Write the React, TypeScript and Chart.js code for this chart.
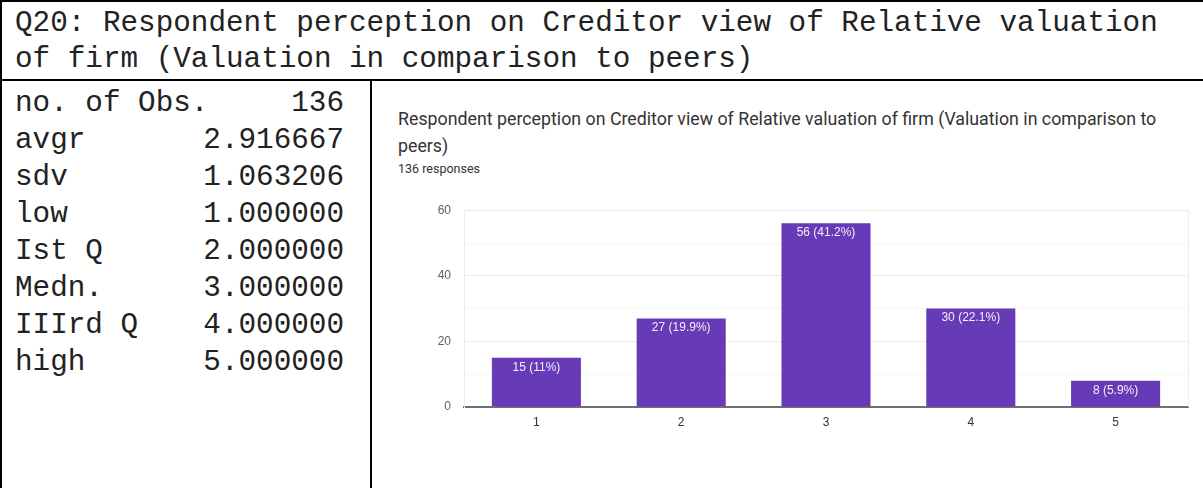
import React, { useEffect, useRef } from "react";
import { Chart, registerables } from "chart.js";

Chart.register(...registerables);

// ---- data ----
const categories = ["1", "2", "3", "4", "5"];
const counts = [15, 27, 56, 30, 8];
const percentLabels = ["11%", "19.9%", "41.2%", "22.1%", "5.9%"];
const yMajorTicks = [0, 20, 40, 60];
const statLabels = ["no. of Obs.", "avgr", "sdv", "low", "Ist Q", "Medn.", "IIIrd Q", "high"];
const statValues = ["136", "2.916667", "1.063206", "1.000000", "2.000000", "3.000000", "4.000000", "5.000000"];
const headerLines = [
  "Q20: Respondent perception on Creditor view of Relative valuation",
  "of firm (Valuation in comparison to peers)",
];
const chartTitleLines = [
  "Respondent perception on Creditor view of Relative valuation of firm (Valuation in comparison to",
  "peers)",
];
const responsesText = "136 responses";

const MONO = '"Liberation Mono", "Courier New", monospace';
const SANS = '"Liberation Sans", Arial, sans-serif';

const frameLinesPlugin = {
  id: "frameLines",
  beforeDatasetsDraw(chart: any) {
    const { ctx, chartArea } = chart;
    ctx.save();
    ctx.strokeStyle = "#ececec";
    ctx.lineWidth = 1;
    ctx.beginPath();
    ctx.moveTo(Math.round(chartArea.right) + 0.5, chartArea.top);
    ctx.lineTo(Math.round(chartArea.right) + 0.5, chartArea.bottom);
    ctx.stroke();
    ctx.restore();
  },
};

const barLabelPlugin = {
  id: "barLabels",
  afterDatasetsDraw(chart: any) {
    const { ctx } = chart;
    const meta = chart.getDatasetMeta(0);
    ctx.save();
    ctx.font = `12px ${SANS}`;
    ctx.fillStyle = "#f3f0f8";
    ctx.textAlign = "center";
    ctx.textBaseline = "middle";
    meta.data.forEach((bar: any, i: number) => {
      ctx.fillText(`${counts[i]} (${percentLabels[i]})`, bar.x, bar.y + 9.5);
    });
    ctx.restore();
  },
};

function BarChart() {
  const ref = useRef<HTMLCanvasElement | null>(null);
  useEffect(() => {
    if (!ref.current) return;
    const chart = new Chart(ref.current, {
      type: "bar",
      data: {
        labels: categories,
        datasets: [
          {
            data: counts,
            backgroundColor: "#673ab7",
            barPercentage: 0.615,
            categoryPercentage: 1,
          },
        ],
      },
      options: {
        responsive: false,
        animation: false,
        layout: { padding: { top: 20, right: 15, left: 0, bottom: 0 } },
        plugins: {
          legend: { display: false },
          tooltip: { enabled: false },
          title: { display: false },
        },
        scales: {
          x: {
            grid: { display: false, drawTicks: false },
            border: { display: true, color: "#707070", width: 2 },
            ticks: {
              color: "#333333",
              padding: 8,
              font: { size: 12, family: SANS },
            },
            afterFit: (scale: any) => {
              scale.height = 33;
            },
          },
          y: {
            min: 0,
            max: 60,
            grid: {
              drawTicks: false,
              color: (c: any) =>
                c.tick && c.tick.value === 0
                  ? "rgba(0,0,0,0)"
                  : yMajorTicks.includes(c.tick?.value)
                  ? "#ebebeb"
                  : "#f5f5f5",
            },
            border: { display: true, color: "#ececec", width: 1 },
            ticks: {
              stepSize: 10,
              color: "#5f5f5f",
              padding: 13,
              font: { size: 12, family: SANS },
              callback: (v: any) => (yMajorTicks.includes(Number(v)) ? String(v) : ""),
            },
            afterFit: (scale: any) => {
              scale.width = 91;
            },
          },
        },
      },
      plugins: [frameLinesPlugin, barLabelPlugin],
    });
    return () => chart.destroy();
  }, []);
  return (
    <canvas
      ref={ref}
      width={830}
      height={250}
      style={{ position: "absolute", left: 373, top: 190, width: 830, height: 250 }}
    />
  );
}

export default function App() {
  const line = (style: React.CSSProperties) => (
    <div style={{ position: "absolute", background: "#000", ...style }} />
  );
  return (
    <div
      style={{
        position: "absolute",
        left: 0,
        top: 0,
        width: 1203,
        height: 488,
        overflow: "hidden",
        background: "#fff",
      }}
    >
      {/* borders */}
      {line({ left: 0, top: 0, width: 1203, height: 2 })}
      {line({ left: 0, top: 0, width: 2, height: 488 })}
      {line({ left: 0, top: 79, width: 1203, height: 2 })}
      {line({ left: 370, top: 80, width: 2, height: 408 })}

      {/* header */}
      <div
        style={{
          position: "absolute",
          left: 15,
          top: 6,
          fontFamily: MONO,
          fontSize: 29.3,
          lineHeight: "36px",
          color: "#222",
          whiteSpace: "pre",
        }}
      >
        {headerLines.map((t, i) => (
          <div key={i}>{t}</div>
        ))}
      </div>

      {/* stats */}
      <div
        style={{
          position: "absolute",
          left: 15,
          top: 85,
          width: 329,
          fontFamily: MONO,
          fontSize: 29.3,
          lineHeight: "37px",
          color: "#222",
          whiteSpace: "pre",
        }}
      >
        {statLabels.map((l, i) => (
          <div key={i} style={{ display: "flex", justifyContent: "space-between" }}>
            <span>{l}</span>
            <span>{statValues[i]}</span>
          </div>
        ))}
      </div>

      {/* chart title */}
      <div
        style={{
          position: "absolute",
          left: 398,
          top: 105,
          fontFamily: "Roboto, sans-serif",
          fontSize: 17.8,
          lineHeight: "27px",
          color: "#333",
          whiteSpace: "pre",
        }}
      >
        {chartTitleLines.map((t, i) => (
          <div key={i}>{t}</div>
        ))}
      </div>
      <div
        style={{
          position: "absolute",
          left: 398,
          top: 161,
          fontFamily: "Roboto, sans-serif",
          fontSize: 12.5,
          lineHeight: "16px",
          color: "#333",
          whiteSpace: "pre",
        }}
      >
        {responsesText}
      </div>

      <BarChart />
    </div>
  );
}
